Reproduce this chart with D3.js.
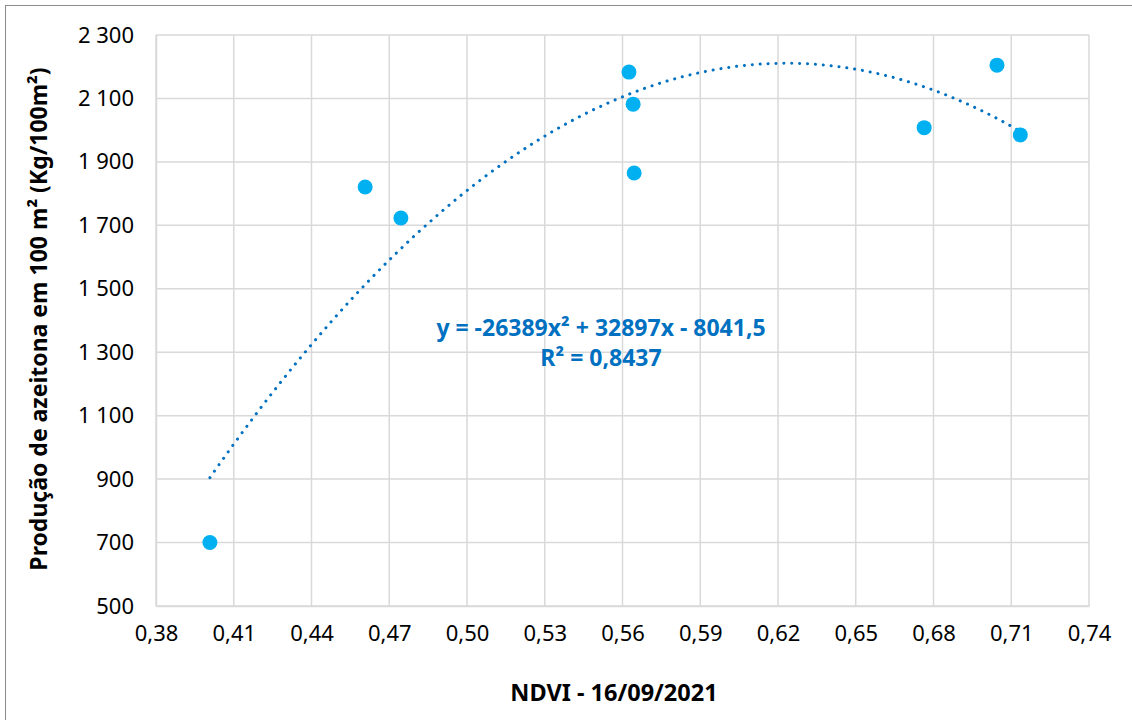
<!DOCTYPE html>
<html>
<head>
<meta charset="utf-8">
<title>NDVI vs produção</title>
<script src="https://cdn.jsdelivr.net/npm/d3@7"></script>
<style>
  body { margin: 0; background: #fff; }
  svg { font-family: "Noto Sans", "Open Sans", sans-serif; }
</style>
</head>
<body>
<div id="chart"></div>
<script>
// data
var ndvi = [0.4008, 0.4607, 0.4745, 0.5625, 0.5641, 0.5645, 0.6764, 0.7045, 0.7135];
var producao = [700, 1821, 1723, 2183, 2082, 1865, 2008, 2205, 1985];

// polynomial trend (order 2) as printed on the chart: a*x^2 + b*x + c
var trendCoef = [-26389, 32897, -8041.5];
var trendText = "y = -26389x² + 32897x - 8041,5";
var r2Text = "R² = 0,8437";

var xTicks = [0.38, 0.41, 0.44, 0.47, 0.50, 0.53, 0.56, 0.59, 0.62, 0.65, 0.68, 0.71, 0.74];
var yTicks = [500, 700, 900, 1100, 1300, 1500, 1700, 1900, 2100, 2300];

var xTitle = "NDVI - 16/09/2021";
var yTitle = "Produção de azeitona em 100 m² (Kg/100m²)";

var svgWidth = 1132;
var svgHeight = 720;
var margin = { top: 35, right: 43, bottom: 114, left: 156 };
var width = svgWidth - margin.left - margin.right;
var height = svgHeight - margin.top - margin.bottom;

var svg = d3.select("#chart")
    .append("svg")
    .attr("width", svgWidth)
    .attr("height", svgHeight);

// outer chart border
svg.append("rect")
    .attr("x", 5.5)
    .attr("y", 5.5)
    .attr("width", svgWidth + 20)
    .attr("height", svgHeight + 20)
    .attr("fill", "none")
    .attr("stroke", "#8c8c8c")
    .attr("stroke-width", 1);

var g = svg.append("g")
    .attr("transform", "translate(" + margin.left + "," + margin.top + ")");

var xScale = d3.scaleLinear().domain([0.38, 0.74]).range([0, width]);
var yScale = d3.scaleLinear().domain([500, 2300]).range([height, 0]);

var pt = d3.formatLocale({ decimal: ",", thousands: " ", grouping: [3], currency: ["", ""] });
var fmtX = pt.format(".2f");
var fmtY = pt.format(",d");

// grid
g.append("g")
    .selectAll("line")
    .data(xTicks)
    .join("line")
    .attr("x1", d => xScale(d))
    .attr("x2", d => xScale(d))
    .attr("y1", 0)
    .attr("y2", height)
    .attr("stroke", "#d9d9d9")
    .attr("stroke-width", 1.5);

g.append("g")
    .selectAll("line")
    .data(yTicks)
    .join("line")
    .attr("x1", 0)
    .attr("x2", width)
    .attr("y1", d => yScale(d))
    .attr("y2", d => yScale(d))
    .attr("stroke", "#d9d9d9")
    .attr("stroke-width", 1.5);

// axes (labels only, lines are the grid)
var xAxis = g.append("g")
    .attr("transform", "translate(0," + height + ")")
    .call(d3.axisBottom(xScale).tickValues(xTicks).tickFormat(fmtX).tickSize(0).tickPadding(19));
var yAxis = g.append("g")
    .call(d3.axisLeft(yScale).tickValues(yTicks).tickFormat(fmtY).tickSize(0).tickPadding(22));

[xAxis, yAxis].forEach(function (a) {
    a.attr("font-family", null).attr("font-size", 22);
    a.select(".domain").attr("stroke", "#d9d9d9").attr("stroke-width", 1.5);
    a.selectAll("text").attr("fill", "#000");
});

// trendline from the printed coefficients
var xs = d3.range(0, 201).map(i => d3.min(ndvi) + (d3.max(ndvi) - d3.min(ndvi)) * i / 200);
var trendLine = d3.line()
    .x(d => xScale(d))
    .y(d => yScale(trendCoef[0] * d * d + trendCoef[1] * d + trendCoef[2]));

g.append("path")
    .datum(xs)
    .attr("d", trendLine)
    .attr("fill", "none")
    .attr("stroke", "#0070c0")
    .attr("stroke-width", 3)
    .attr("stroke-linecap", "round")
    .attr("stroke-dasharray", "0.1 7.8");

// points
g.append("g")
    .selectAll("circle")
    .data(ndvi)
    .join("circle")
    .attr("cx", d => xScale(d))
    .attr("cy", (d, i) => yScale(producao[i]))
    .attr("r", 7.5)
    .attr("fill", "#00b0f0");

// equation label
var eq = g.append("text")
    .attr("text-anchor", "middle")
    .attr("font-size", 23)
    .attr("font-weight", "bold")
    .attr("fill", "#0070c0");
eq.append("tspan")
    .attr("x", 445)
    .attr("y", 301)
    .text(trendText);
eq.append("tspan")
    .attr("x", 445)
    .attr("y", 331)
    .text(r2Text);

// axis titles
svg.append("text")
    .attr("x", 614)
    .attr("y", 701)
    .attr("text-anchor", "middle")
    .attr("font-size", 23.5)
    .attr("font-weight", "bold")
    .text(xTitle);

svg.append("text")
    .attr("transform", "translate(47,319) rotate(-90)")
    .attr("text-anchor", "middle")
    .attr("font-size", 23)
    .attr("font-weight", "bold")
    .text(yTitle);
</script>
</body>
</html>
